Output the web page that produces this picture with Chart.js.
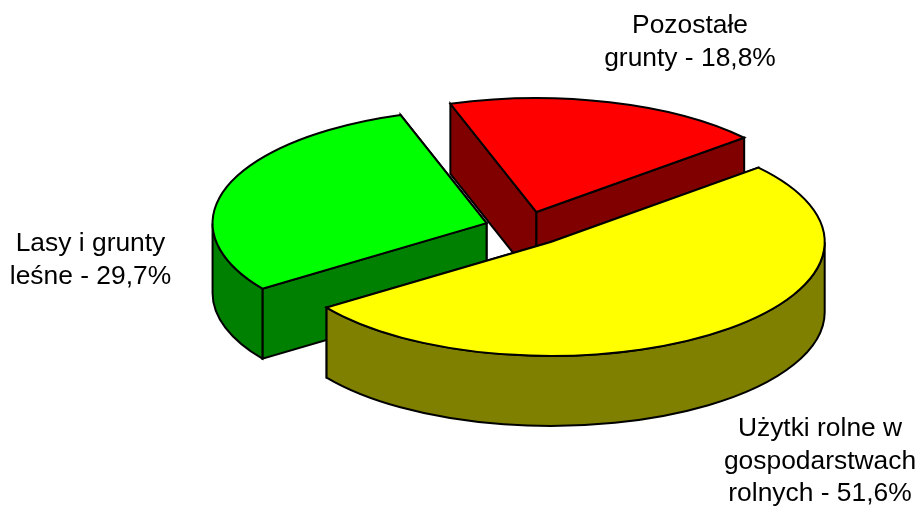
<!DOCTYPE html>
<html><head><meta charset="utf-8">
<style>html,body{margin:0;padding:0;background:#fff}canvas{display:block}</style>
<script src="https://cdn.jsdelivr.net/npm/chart.js@4"></script>
</head><body>
<canvas id="c" width="919" height="507"></canvas>
<script>
const categories = ["Użytki rolne w gospodarstwach rolnych", "Lasy i grunty leśne", "Pozostałe grunty"];
const values = [51.6, 29.7, 18.8];
const labelLines = [
  ["Użytki rolne w", "gospodarstwach", "rolnych - 51,6%"],
  ["Lasy i grunty", "leśne - 29,7%"],
  ["Pozostałe", "grunty - 18,8%"]
];
const topColors = ["#ffff00", "#00ff00", "#ff0000"];
const sideColors = ["#808000", "#008000", "#800000"];

const TILT = 0.416, DEPTH = 70, EXPLODE = 41, RADIUS = 274, ROTATION = 49.3;
const LABEL_POS = [[820, 429], [90.5, 244], [690, 26]];
const FONT = '26.4px "Liberation Sans", Arial, sans-serif', LINE_H = 32.5;

const pie3d = {
  id: 'pie3d',
  beforeDatasetsDraw(chart) {
    const ctx = chart.ctx;
    const arcs = chart.getDatasetMeta(0).data.map((arc, i) => {
      const p = arc.getProps(['x', 'y', 'startAngle', 'endAngle', 'outerRadius'], true);
      const mid = (p.startAngle + p.endAngle) / 2;
      return { arc, i, a0: p.startAngle, a1: p.endAngle, r: p.outerRadius, cy0: p.y,
        cx: p.x + Math.cos(mid) * EXPLODE, cy: p.y + Math.sin(mid) * EXPLODE * TILT, mid };
    }).sort((a, b) => Math.sin(a.mid) - Math.sin(b.mid));

    ctx.save();
    ctx.lineWidth = 2;
    ctx.lineJoin = 'miter';
    ctx.strokeStyle = '#000';
    for (const s of arcs) {
      const rx = s.r, ry = s.r * TILT;
      const px = a => s.cx + Math.cos(a) * rx, py = a => s.cy + Math.sin(a) * ry;
      ctx.fillStyle = sideColors[s.i];
      // radial cut faces, the one further back first
      for (const a of [s.a0, s.a1].sort((u, v) => Math.sin(u) - Math.sin(v))) {
        ctx.beginPath();
        ctx.moveTo(s.cx, s.cy);
        ctx.lineTo(px(a), py(a));
        ctx.lineTo(px(a), py(a) + DEPTH);
        ctx.lineTo(s.cx, s.cy + DEPTH);
        ctx.closePath();
        ctx.fill(); ctx.stroke();
      }
      // outer wall, front half only
      for (const k of [-1, 0, 1]) {
        const lo = Math.max(s.a0, k * 2 * Math.PI), hi = Math.min(s.a1, k * 2 * Math.PI + Math.PI);
        if (hi <= lo) continue;
        ctx.beginPath();
        ctx.ellipse(s.cx, s.cy, rx, ry, 0, lo, hi);
        ctx.ellipse(s.cx, s.cy + DEPTH, rx, ry, 0, hi, lo, true);
        ctx.closePath();
        ctx.fill(); ctx.stroke();
      }
      // top face: the library's own arc element, tilted
      ctx.save();
      ctx.translate(s.cx, s.cy);
      ctx.scale(1, TILT);
      ctx.translate(-s.arc.x, -s.cy0);
      s.arc.draw(ctx);
      ctx.restore();
      ctx.beginPath();
      ctx.moveTo(s.cx, s.cy);
      ctx.ellipse(s.cx, s.cy, rx, ry, 0, s.a0, s.a1);
      ctx.closePath();
      ctx.stroke();
    }
    ctx.restore();
    return false;
  },
  afterDraw(chart) {
    const ctx = chart.ctx;
    ctx.save();
    ctx.font = FONT;
    ctx.fillStyle = '#000';
    ctx.textAlign = 'center';
    ctx.textBaseline = 'middle';
    labelLines.forEach((lines, i) => lines.forEach((t, j) =>
      ctx.fillText(t, LABEL_POS[i][0], LABEL_POS[i][1] + j * LINE_H)));
    ctx.restore();
  }
};

new Chart(document.getElementById('c'), {
  type: 'pie',
  data: { labels: categories, datasets: [{ data: values, backgroundColor: topColors, borderWidth: 0, clip: false }] },
  options: {
    responsive: false, animation: false, rotation: ROTATION, radius: RADIUS,
    layout: { padding: { left: 132, bottom: 50 } },
    plugins: { legend: { display: false }, tooltip: { enabled: false }, title: { display: false } }
  },
  plugins: [pie3d]
});
</script>
</body></html>
